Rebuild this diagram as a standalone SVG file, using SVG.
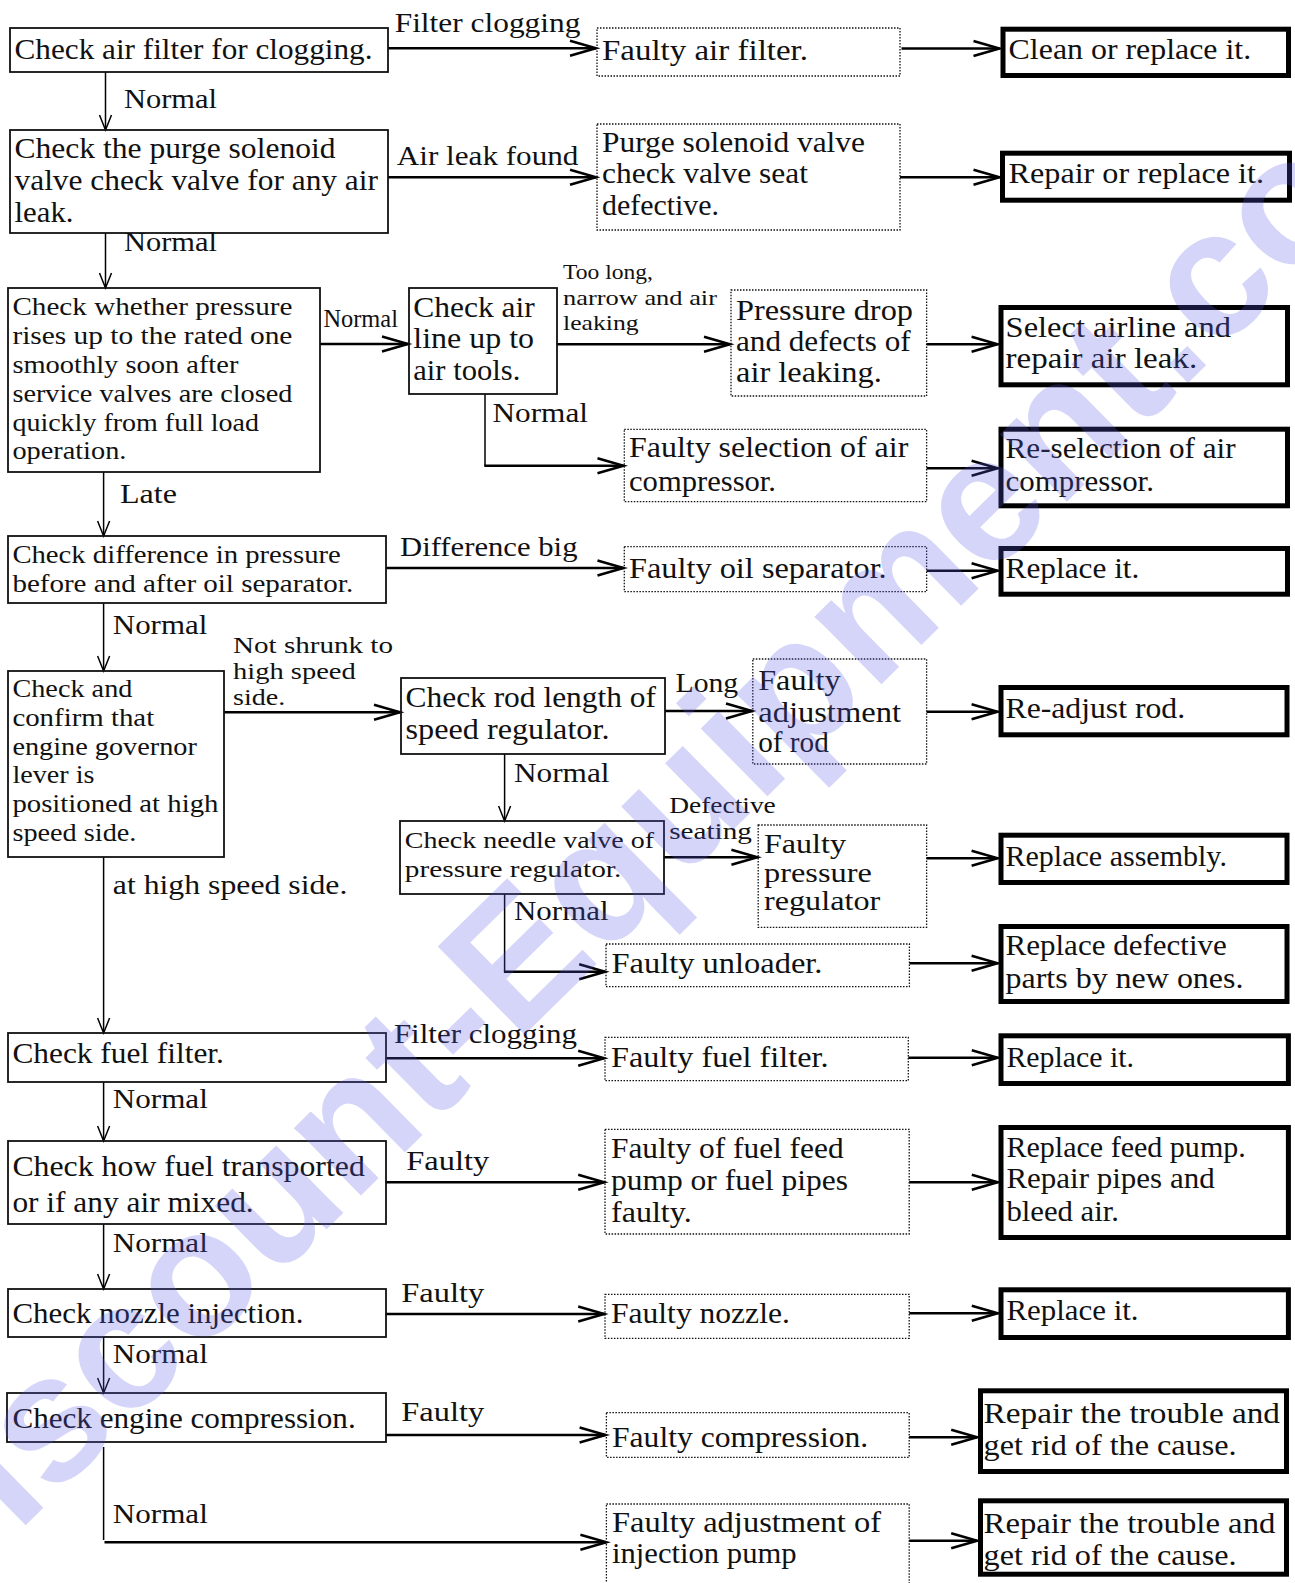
<svg xmlns="http://www.w3.org/2000/svg" width="1295" height="1583" viewBox="0 0 1295 1583">
  <style>
    text { font-family: "Liberation Serif", "Times New Roman", serif; fill: #111; }
    .box { fill: none; stroke: #111; stroke-width: 1.8; }
    .dot { fill: none; stroke: #111; stroke-width: 1.3; stroke-dasharray: 1.5 1.5; }
    .act { fill: none; stroke: #000; stroke-width: 5; }
    .h { fill: none; stroke: #000; stroke-width: 2.5; marker-end: url(#big); }
    .v { fill: none; stroke: #000; stroke-width: 1.5; marker-end: url(#small); }
    .vp { fill: none; stroke: #000; stroke-width: 1.5; }
    .f30 { font-size: 30px; }
    .f29 { font-size: 29px; }
    .f27 { font-size: 27px; }
    .f25 { font-size: 25px; }
    .f24 { font-size: 24px; }
    .f23 { font-size: 23px; }
    .f21 { font-size: 21px; }
    .wm { font-family: "Liberation Sans", Arial, sans-serif; font-weight: bold; fill: #5b5beb; opacity: 0.25; }
  </style>
  <defs>
    <marker id="big" markerUnits="userSpaceOnUse" viewBox="-30 -10 32 20" markerWidth="32" markerHeight="20" refX="0" refY="0" orient="auto" overflow="visible">
      <path d="M-26,-7.5 L0,0 L-26,7.5" fill="none" stroke="#000" stroke-width="2.5"/>
    </marker>
    <marker id="small" markerUnits="userSpaceOnUse" viewBox="-18 -8 20 16" markerWidth="20" markerHeight="16" refX="0" refY="0" orient="auto" overflow="visible">
      <path d="M-15,-6 L0,0 L-15,6" fill="none" stroke="#000" stroke-width="1.5"/>
    </marker>
  </defs>

  <!-- connectors -->
  <g id="connectors">
    <!-- main check column -->
    <line class="v" x1="105.5" y1="72" x2="105.5" y2="130"/>
    <line class="v" x1="105.5" y1="233" x2="105.5" y2="288"/>
    <line class="v" x1="103.6" y1="472" x2="103.6" y2="536"/>
    <line class="v" x1="103.6" y1="603" x2="103.6" y2="671"/>
    <line class="v" x1="103.6" y1="857" x2="103.6" y2="1033"/>
    <line class="v" x1="103.6" y1="1082" x2="103.6" y2="1141"/>
    <line class="v" x1="103.6" y1="1224" x2="103.6" y2="1289"/>
    <line class="v" x1="103.6" y1="1337" x2="103.6" y2="1393"/>
    <line class="vp" x1="103.6" y1="1447" x2="103.6" y2="1540"/>
    <line class="h" x1="104.5" y1="1542.3" x2="606.4" y2="1542.3"/>
    <!-- branches to causes -->
    <line class="h" x1="388" y1="48.3" x2="596" y2="48.3"/>
    <line class="h" x1="388" y1="177.3" x2="596" y2="177.3"/>
    <line class="h" x1="320" y1="344" x2="408" y2="344"/>
    <line class="h" x1="556.8" y1="344.3" x2="730" y2="344.3"/>
    <path class="vp" d="M485,394 V465.7"/>
    <line class="h" x1="484.3" y1="465.7" x2="623.5" y2="465.7"/>
    <line class="h" x1="385.6" y1="568" x2="623.5" y2="568"/>
    <line class="h" x1="224" y1="712.3" x2="400" y2="712.3"/>
    <line class="h" x1="665" y1="711" x2="752" y2="711"/>
    <line class="v" x1="504.6" y1="754" x2="504.6" y2="821"/>
    <line class="h" x1="663.8" y1="857.3" x2="757.4" y2="857.3"/>
    <path class="vp" d="M504.6,894 V971.7"/>
    <line class="h" x1="503.9" y1="971.7" x2="605.2" y2="971.7"/>
    <line class="h" x1="385.6" y1="1058.3" x2="604.2" y2="1058.3"/>
    <line class="h" x1="385.6" y1="1182.3" x2="604.2" y2="1182.3"/>
    <line class="h" x1="385.6" y1="1314" x2="604.2" y2="1314"/>
    <line class="h" x1="385.6" y1="1435" x2="605.6" y2="1435"/>
    <!-- causes to remedies -->
    <line class="h" x1="901.5" y1="48.5" x2="999.5" y2="48.5"/>
    <line class="h" x1="900" y1="177.3" x2="999.5" y2="177.3"/>
    <line class="h" x1="926.6" y1="344.3" x2="997.6" y2="344.3"/>
    <line class="h" x1="926.6" y1="468.3" x2="997.6" y2="468.3"/>
    <line class="h" x1="926.6" y1="570.7" x2="997.6" y2="570.7"/>
    <line class="h" x1="926.6" y1="711.7" x2="997.6" y2="711.7"/>
    <line class="h" x1="926.6" y1="858.3" x2="997.6" y2="858.3"/>
    <line class="h" x1="909.4" y1="963.3" x2="997.6" y2="963.3"/>
    <line class="h" x1="908.3" y1="1057.7" x2="997.8" y2="1057.7"/>
    <line class="h" x1="909.2" y1="1182.3" x2="997.8" y2="1182.3"/>
    <line class="h" x1="909.2" y1="1313.3" x2="997.8" y2="1313.3"/>
    <line class="h" x1="909.2" y1="1437.3" x2="977.2" y2="1437.3"/>
    <line class="h" x1="909.2" y1="1540.7" x2="977.2" y2="1540.7"/>
  </g>

  <!-- connector labels -->
  <g id="labels">
    <text class="f27" x="124" y="108" textLength="93" lengthAdjust="spacingAndGlyphs">Normal</text>
    <text class="f27" x="124" y="250.5" textLength="93" lengthAdjust="spacingAndGlyphs">Normal</text>
    <text class="f27" x="120" y="503" textLength="57" lengthAdjust="spacingAndGlyphs">Late</text>
    <text class="f27" x="112.8" y="634" textLength="94.5" lengthAdjust="spacingAndGlyphs">Normal</text>
    <text class="f27" x="112.8" y="894" textLength="234.6" lengthAdjust="spacingAndGlyphs">at high speed side.</text>
    <text class="f27" x="112.8" y="1108" textLength="95" lengthAdjust="spacingAndGlyphs">Normal</text>
    <text class="f27" x="112.8" y="1252" textLength="95" lengthAdjust="spacingAndGlyphs">Normal</text>
    <text class="f27" x="112.8" y="1363" textLength="95" lengthAdjust="spacingAndGlyphs">Normal</text>
    <text class="f27" x="112.8" y="1523" textLength="95" lengthAdjust="spacingAndGlyphs">Normal</text>
    <text class="f27" x="394.7" y="31.7" textLength="185.7" lengthAdjust="spacingAndGlyphs">Filter clogging</text>
    <text class="f27" x="396.8" y="165" textLength="181.6" lengthAdjust="spacingAndGlyphs">Air leak found</text>
    <text class="f25" x="323.4" y="326.7" textLength="74.6" lengthAdjust="spacingAndGlyphs">Normal</text>
    <text class="f21" x="563" y="279.3" textLength="90" lengthAdjust="spacingAndGlyphs">Too long,</text>
    <text class="f21" x="563" y="305" textLength="154" lengthAdjust="spacingAndGlyphs">narrow and air</text>
    <text class="f21" x="563" y="330" textLength="75.6" lengthAdjust="spacingAndGlyphs">leaking</text>
    <text class="f27" x="492.5" y="421.7" textLength="95.5" lengthAdjust="spacingAndGlyphs">Normal</text>
    <text class="f27" x="400" y="556" textLength="177.5" lengthAdjust="spacingAndGlyphs">Difference big</text>
    <text class="f24" x="233" y="652.7" textLength="160" lengthAdjust="spacingAndGlyphs">Not shrunk to</text>
    <text class="f24" x="233" y="679.3" textLength="122.7" lengthAdjust="spacingAndGlyphs">high speed</text>
    <text class="f24" x="233" y="705" textLength="52.2" lengthAdjust="spacingAndGlyphs">side.</text>
    <text class="f27" x="675.5" y="691.7" textLength="62.7" lengthAdjust="spacingAndGlyphs">Long</text>
    <text class="f27" x="514" y="781.7" textLength="95.5" lengthAdjust="spacingAndGlyphs">Normal</text>
    <text class="f23" x="669.2" y="813" textLength="106.6" lengthAdjust="spacingAndGlyphs">Defective</text>
    <text class="f23" x="669.2" y="839" textLength="82.8" lengthAdjust="spacingAndGlyphs">seating</text>
    <text class="f27" x="514" y="920" textLength="94.6" lengthAdjust="spacingAndGlyphs">Normal</text>
    <text class="f27" x="393.9" y="1043.3" textLength="183.2" lengthAdjust="spacingAndGlyphs">Filter clogging</text>
    <text class="f27" x="406.3" y="1170" textLength="83" lengthAdjust="spacingAndGlyphs">Faulty</text>
    <text class="f27" x="401.3" y="1301.7" textLength="83" lengthAdjust="spacingAndGlyphs">Faulty</text>
    <text class="f27" x="401.3" y="1420.7" textLength="83" lengthAdjust="spacingAndGlyphs">Faulty</text>
  </g>

  <!-- check steps -->
  <g id="check-air-filter">
    <rect class="box" x="10" y="28" width="378" height="44"/>
    <text class="f30" x="14.5" y="59" textLength="358" lengthAdjust="spacingAndGlyphs">Check air filter for clogging.</text>
  </g>
  <g id="check-purge-valve">
    <rect class="box" x="10" y="130" width="378" height="103"/>
    <text class="f30" x="14.5" y="158" textLength="321" lengthAdjust="spacingAndGlyphs">Check the purge solenoid</text>
    <text class="f30" x="14.5" y="190" textLength="363.5" lengthAdjust="spacingAndGlyphs">valve check valve for any air</text>
    <text class="f30" x="14.5" y="222" textLength="59" lengthAdjust="spacingAndGlyphs">leak.</text>
  </g>
  <g id="check-pressure-rise">
    <rect class="box" x="8" y="288" width="312" height="184"/>
    <text class="f25" x="12.4" y="315" textLength="280" lengthAdjust="spacingAndGlyphs">Check whether pressure</text>
    <text class="f25" x="12.4" y="344" textLength="280" lengthAdjust="spacingAndGlyphs">rises up to the rated one</text>
    <text class="f25" x="12.4" y="373" textLength="226" lengthAdjust="spacingAndGlyphs">smoothly soon after</text>
    <text class="f25" x="12.4" y="401.5" textLength="280" lengthAdjust="spacingAndGlyphs">service valves are closed</text>
    <text class="f25" x="12.4" y="430.5" textLength="246.6" lengthAdjust="spacingAndGlyphs">quickly from full load</text>
    <text class="f25" x="12.4" y="459" textLength="114" lengthAdjust="spacingAndGlyphs">operation.</text>
  </g>
  <g id="check-air-line">
    <rect class="box" x="409" y="288" width="148" height="106"/>
    <text class="f29" x="413.3" y="316.7" textLength="121.5" lengthAdjust="spacingAndGlyphs">Check air</text>
    <text class="f29" x="413.3" y="348" textLength="120.7" lengthAdjust="spacingAndGlyphs">line up to</text>
    <text class="f29" x="413.3" y="380" textLength="107" lengthAdjust="spacingAndGlyphs">air tools.</text>
  </g>
  <g id="check-separator">
    <rect class="box" x="8" y="536" width="378" height="67"/>
    <text class="f25" x="12.4" y="563" textLength="328.4" lengthAdjust="spacingAndGlyphs">Check difference in pressure</text>
    <text class="f25" x="12.4" y="591.7" textLength="340.8" lengthAdjust="spacingAndGlyphs">before and after oil separator.</text>
  </g>
  <g id="check-governor">
    <rect class="box" x="8" y="671" width="216" height="186"/>
    <text class="f25" x="12.4" y="697" textLength="120" lengthAdjust="spacingAndGlyphs">Check and</text>
    <text class="f25" x="12.4" y="726" textLength="141.8" lengthAdjust="spacingAndGlyphs">confirm that</text>
    <text class="f25" x="12.4" y="755" textLength="184.5" lengthAdjust="spacingAndGlyphs">engine governor</text>
    <text class="f25" x="12.4" y="783" textLength="82" lengthAdjust="spacingAndGlyphs">lever is</text>
    <text class="f25" x="12.4" y="812" textLength="206" lengthAdjust="spacingAndGlyphs">positioned at high</text>
    <text class="f25" x="12.4" y="841" textLength="124" lengthAdjust="spacingAndGlyphs">speed side.</text>
  </g>
  <g id="check-rod-length">
    <rect class="box" x="401" y="678" width="264" height="76"/>
    <text class="f29" x="405.5" y="707.3" textLength="250.5" lengthAdjust="spacingAndGlyphs">Check rod length of</text>
    <text class="f29" x="405.5" y="739" textLength="204" lengthAdjust="spacingAndGlyphs">speed regulator.</text>
  </g>
  <g id="check-needle-valve">
    <rect class="box" x="400" y="821" width="264" height="73"/>
    <text class="f24" x="404.8" y="848.3" textLength="249.2" lengthAdjust="spacingAndGlyphs">Check needle valve of</text>
    <text class="f24" x="404.8" y="876.7" textLength="216.5" lengthAdjust="spacingAndGlyphs">pressure regulator.</text>
  </g>
  <g id="check-fuel-filter">
    <rect class="box" x="8" y="1033" width="378" height="49"/>
    <text class="f30" x="12.4" y="1062.7" textLength="211.5" lengthAdjust="spacingAndGlyphs">Check fuel filter.</text>
  </g>
  <g id="check-fuel-feed">
    <rect class="box" x="8" y="1141" width="378" height="83"/>
    <text class="f30" x="12.4" y="1176" textLength="352.4" lengthAdjust="spacingAndGlyphs">Check how fuel transported</text>
    <text class="f30" x="12.4" y="1212" textLength="241.3" lengthAdjust="spacingAndGlyphs">or if any air mixed.</text>
  </g>
  <g id="check-nozzle">
    <rect class="box" x="8" y="1289" width="378" height="48"/>
    <text class="f30" x="12.4" y="1323" textLength="291" lengthAdjust="spacingAndGlyphs">Check nozzle injection.</text>
  </g>
  <g id="check-compression">
    <rect class="box" x="7" y="1393" width="379" height="49"/>
    <text class="f30" x="12.4" y="1428.3" textLength="343.3" lengthAdjust="spacingAndGlyphs">Check engine compression.</text>
  </g>

  <!-- causes -->
  <g id="cause-air-filter">
    <rect class="dot" x="597" y="28" width="303" height="48"/>
    <text class="f30" x="602" y="60" textLength="206" lengthAdjust="spacingAndGlyphs">Faulty air filter.</text>
  </g>
  <g id="cause-purge-seat">
    <rect class="dot" x="597" y="124" width="303" height="106"/>
    <text class="f30" x="602" y="151.7" textLength="263" lengthAdjust="spacingAndGlyphs">Purge solenoid valve</text>
    <text class="f30" x="602" y="183.3" textLength="206" lengthAdjust="spacingAndGlyphs">check valve seat</text>
    <text class="f30" x="602" y="215" textLength="117" lengthAdjust="spacingAndGlyphs">defective.</text>
  </g>
  <g id="cause-pressure-drop">
    <rect class="dot" x="731" y="290" width="195.6" height="106"/>
    <text class="f29" x="736" y="320" textLength="177" lengthAdjust="spacingAndGlyphs">Pressure drop</text>
    <text class="f29" x="736" y="351" textLength="174.7" lengthAdjust="spacingAndGlyphs">and defects of</text>
    <text class="f29" x="736" y="381.7" textLength="145.8" lengthAdjust="spacingAndGlyphs">air leaking.</text>
  </g>
  <g id="cause-compressor-selection">
    <rect class="dot" x="624.3" y="429.3" width="302.3" height="72.4"/>
    <text class="f30" x="629" y="457.3" textLength="279.3" lengthAdjust="spacingAndGlyphs">Faulty selection of air</text>
    <text class="f30" x="629" y="490.7" textLength="147" lengthAdjust="spacingAndGlyphs">compressor.</text>
  </g>
  <g id="cause-oil-separator">
    <rect class="dot" x="624.3" y="546.7" width="302.3" height="45"/>
    <text class="f30" x="629" y="578.3" textLength="257.7" lengthAdjust="spacingAndGlyphs">Faulty oil separator.</text>
  </g>
  <g id="cause-rod-adjustment">
    <rect class="dot" x="752.8" y="659" width="173.8" height="105"/>
    <text class="f29" x="758.2" y="690" textLength="82.3" lengthAdjust="spacingAndGlyphs">Faulty</text>
    <text class="f29" x="758.2" y="721.7" textLength="142.8" lengthAdjust="spacingAndGlyphs">adjustment</text>
    <text class="f29" x="758.2" y="751.7" textLength="70.6" lengthAdjust="spacingAndGlyphs">of rod</text>
  </g>
  <g id="cause-pressure-regulator">
    <rect class="dot" x="758.2" y="825" width="168.4" height="102.3"/>
    <text class="f27" x="764" y="853.3" textLength="82" lengthAdjust="spacingAndGlyphs">Faulty</text>
    <text class="f27" x="764" y="881.7" textLength="107.8" lengthAdjust="spacingAndGlyphs">pressure</text>
    <text class="f27" x="764" y="910" textLength="116.2" lengthAdjust="spacingAndGlyphs">regulator</text>
  </g>
  <g id="cause-unloader">
    <rect class="dot" x="606" y="944" width="303.4" height="42.7"/>
    <text class="f30" x="611.5" y="973.3" textLength="211" lengthAdjust="spacingAndGlyphs">Faulty unloader.</text>
  </g>
  <g id="cause-fuel-filter">
    <rect class="dot" x="605" y="1037.3" width="303.3" height="43.4"/>
    <text class="f30" x="611" y="1066.7" textLength="217.5" lengthAdjust="spacingAndGlyphs">Faulty fuel filter.</text>
  </g>
  <g id="cause-fuel-feed">
    <rect class="dot" x="605" y="1129.3" width="304.2" height="104.7"/>
    <text class="f30" x="611" y="1158.3" textLength="232.6" lengthAdjust="spacingAndGlyphs">Faulty of fuel feed</text>
    <text class="f30" x="611" y="1190" textLength="237" lengthAdjust="spacingAndGlyphs">pump or fuel pipes</text>
    <text class="f30" x="611" y="1221.7" textLength="80.7" lengthAdjust="spacingAndGlyphs">faulty.</text>
  </g>
  <g id="cause-nozzle">
    <rect class="dot" x="605" y="1294.3" width="304.2" height="44"/>
    <text class="f30" x="611" y="1323.3" textLength="178.8" lengthAdjust="spacingAndGlyphs">Faulty nozzle.</text>
  </g>
  <g id="cause-compression">
    <rect class="dot" x="606.4" y="1412.7" width="302.8" height="44.6"/>
    <text class="f30" x="612" y="1446.7" textLength="256.2" lengthAdjust="spacingAndGlyphs">Faulty compression.</text>
  </g>
  <g id="cause-injection-pump">
    <rect class="dot" x="606.4" y="1504" width="302.8" height="96"/>
    <text class="f30" x="612" y="1531.7" textLength="269" lengthAdjust="spacingAndGlyphs">Faulty adjustment of</text>
    <text class="f30" x="612" y="1563.3" textLength="184.6" lengthAdjust="spacingAndGlyphs">injection pump</text>
  </g>

  <!-- remedies -->
  <g id="fix-air-filter">
    <rect class="act" x="1003" y="29.2" width="285.5" height="46.3"/>
    <text class="f30" x="1008.6" y="59.3" textLength="242.6" lengthAdjust="spacingAndGlyphs">Clean or replace it.</text>
  </g>
  <g id="fix-purge-valve">
    <rect class="act" x="1002.5" y="153.2" width="287" height="47"/>
    <text class="f30" x="1008.6" y="183.3" textLength="255.4" lengthAdjust="spacingAndGlyphs">Repair or replace it.</text>
  </g>
  <g id="fix-air-line">
    <rect class="act" x="1001" y="307.5" width="286.5" height="77.3"/>
    <text class="f30" x="1005.6" y="337.3" textLength="225.3" lengthAdjust="spacingAndGlyphs">Select airline and</text>
    <text class="f30" x="1005.6" y="368.3" textLength="191.6" lengthAdjust="spacingAndGlyphs">repair air leak.</text>
  </g>
  <g id="fix-compressor">
    <rect class="act" x="1001" y="429.2" width="286.5" height="76.6"/>
    <text class="f30" x="1005.6" y="458.3" textLength="230" lengthAdjust="spacingAndGlyphs">Re-selection of air</text>
    <text class="f30" x="1005.6" y="490.7" textLength="148.3" lengthAdjust="spacingAndGlyphs">compressor.</text>
  </g>
  <g id="fix-separator">
    <rect class="act" x="1001" y="548.5" width="286.5" height="45.7"/>
    <text class="f30" x="1005.6" y="578.3" textLength="133.8" lengthAdjust="spacingAndGlyphs">Replace it.</text>
  </g>
  <g id="fix-rod">
    <rect class="act" x="1001" y="687.5" width="286" height="47.3"/>
    <text class="f30" x="1005.5" y="718.3" textLength="179.6" lengthAdjust="spacingAndGlyphs">Re-adjust rod.</text>
  </g>
  <g id="fix-regulator">
    <rect class="act" x="1001" y="835.2" width="286" height="47.3"/>
    <text class="f30" x="1005.5" y="866" textLength="221.4" lengthAdjust="spacingAndGlyphs">Replace assembly.</text>
  </g>
  <g id="fix-unloader">
    <rect class="act" x="1001" y="926.5" width="286" height="75"/>
    <text class="f30" x="1005.5" y="955" textLength="221.4" lengthAdjust="spacingAndGlyphs">Replace defective</text>
    <text class="f30" x="1005.5" y="988.3" textLength="238" lengthAdjust="spacingAndGlyphs">parts by new ones.</text>
  </g>
  <g id="fix-fuel-filter">
    <rect class="act" x="1001" y="1035.8" width="287.4" height="47.7"/>
    <text class="f30" x="1006.4" y="1066.7" textLength="127.6" lengthAdjust="spacingAndGlyphs">Replace it.</text>
  </g>
  <g id="fix-fuel-feed">
    <rect class="act" x="1001" y="1127.5" width="287.4" height="110"/>
    <text class="f30" x="1006.4" y="1156.7" textLength="239.4" lengthAdjust="spacingAndGlyphs">Replace feed pump.</text>
    <text class="f30" x="1006.4" y="1188.3" textLength="208.3" lengthAdjust="spacingAndGlyphs">Repair pipes and</text>
    <text class="f30" x="1006.4" y="1220.7" textLength="112.6" lengthAdjust="spacingAndGlyphs">bleed air.</text>
  </g>
  <g id="fix-nozzle">
    <rect class="act" x="1001" y="1289.8" width="287.4" height="47.7"/>
    <text class="f30" x="1006.4" y="1320" textLength="132.2" lengthAdjust="spacingAndGlyphs">Replace it.</text>
  </g>
  <g id="fix-compression">
    <rect class="act" x="980.5" y="1390.8" width="306" height="80.7"/>
    <text class="f30" x="983.6" y="1423.3" textLength="296.4" lengthAdjust="spacingAndGlyphs">Repair the trouble and</text>
    <text class="f30" x="983.6" y="1455" textLength="253" lengthAdjust="spacingAndGlyphs">get rid of the cause.</text>
  </g>
  <g id="fix-injection-pump">
    <rect class="act" x="980.5" y="1500.8" width="306" height="73.4"/>
    <text class="f30" x="983.6" y="1533.3" textLength="291.8" lengthAdjust="spacingAndGlyphs">Repair the trouble and</text>
    <text class="f30" x="983.6" y="1565" textLength="253" lengthAdjust="spacingAndGlyphs">get rid of the cause.</text>
  </g>

  <!-- translucent diagonal overprint -->
  <g id="overprint">
    <text class="wm" font-size="180" transform="translate(-76,1625) rotate(-44.5)">Discount-Equipment.com</text>
  </g>
</svg>
